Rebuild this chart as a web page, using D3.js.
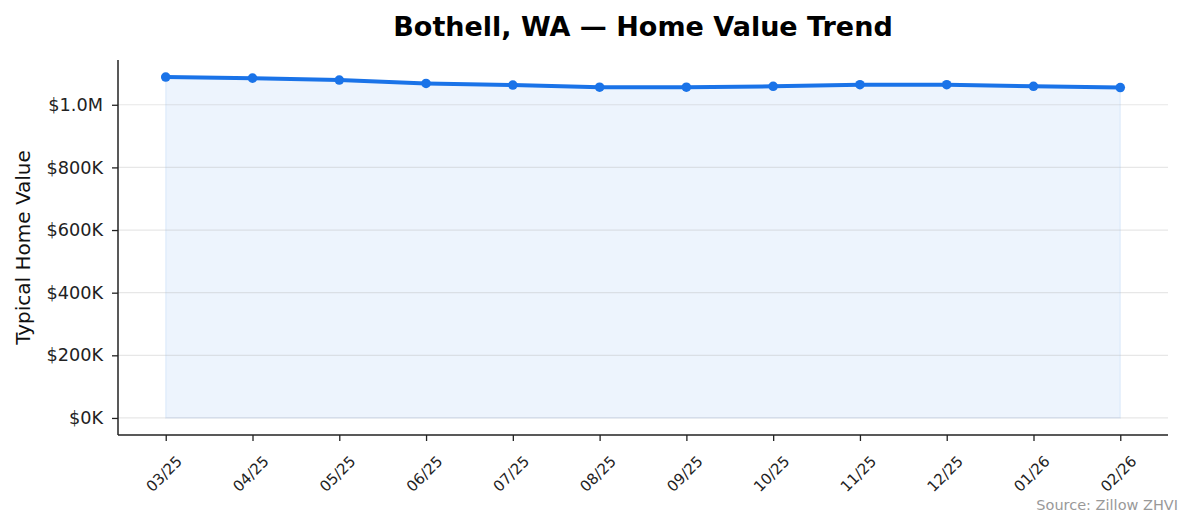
<!DOCTYPE html>
<html>
<head>
<meta charset="utf-8">
<script src="https://cdn.jsdelivr.net/npm/d3@7"></script>
<style>
  html, body { margin: 0; padding: 0; background: #fff; }
  svg { display: block; font-family: "DejaVu Sans", sans-serif; }
</style>
</head>
<body>
<div id="chart"></div>
<script>
// months along the x axis
var months = ['03/25', '04/25', '05/25', '06/25', '07/25', '08/25',
              '09/25', '10/25', '11/25', '12/25', '01/26', '02/26'];
// typical home value (ZHVI), dollars
var homeValues = [1088500, 1085000, 1079000, 1068000, 1063000, 1056000,
                  1056000, 1059000, 1064000, 1064000, 1059000, 1055000];
var yTicks = [0, 200000, 400000, 600000, 800000, 1000000];
var yTickLabels = ['$0K', '$200K', '$400K', '$600K', '$800K', '$1.0M'];

var w = 1194, h = 529;
var margin = {top: 60, right: 26, bottom: 94, left: 118};
var blue = '#1a73e8';

var svg = d3.select('#chart').append('svg')
  .attr('width', w).attr('height', h);

// matplotlib style 5% padding on both axes
var n = months.length;
var xPad = (n - 1) * 0.05;
var x = d3.scaleLinear()
  .domain([-xPad, n - 1 + xPad])
  .range([margin.left, w - margin.right]);

var yMax = d3.max(homeValues);
var yPad = yMax * 0.05;
var y = d3.scaleLinear()
  .domain([-yPad, yMax + yPad])
  .range([h - margin.bottom, margin.top]);

// fill under the line
var area = d3.area()
  .x(function(d, i) { return x(i); })
  .y0(y(0))
  .y1(function(d) { return y(d); });

svg.append('path').datum(homeValues)
  .attr('d', area)
  .attr('fill', blue).attr('fill-opacity', 0.08)
  .attr('stroke', blue).attr('stroke-opacity', 0.08).attr('stroke-width', 1.5);

// horizontal grid
svg.append('g').selectAll('line').data(yTicks).enter().append('line')
  .attr('x1', margin.left).attr('x2', w - margin.right)
  .attr('y1', function(d) { return y(d); })
  .attr('y2', function(d) { return y(d); })
  .attr('stroke', '#b0b0b0').attr('stroke-opacity', 0.3).attr('stroke-width', 1.2);

// line + markers
var line = d3.line()
  .x(function(d, i) { return x(i); })
  .y(function(d) { return y(d); });

svg.append('path').datum(homeValues)
  .attr('d', line)
  .attr('fill', 'none').attr('stroke', blue)
  .attr('stroke-width', 4).attr('stroke-linejoin', 'round').attr('stroke-linecap', 'round');

svg.append('g').selectAll('circle').data(homeValues).enter().append('circle')
  .attr('cx', function(d, i) { return x(i); })
  .attr('cy', function(d) { return y(d); })
  .attr('r', 4.8)
  .attr('fill', blue);

// y axis
var yAxis = d3.axisLeft(y)
  .tickValues(yTicks)
  .tickSize(6).tickPadding(9)
  .tickFormat(function(d, i) { return yTickLabels[i]; });

var gy = svg.append('g')
  .attr('transform', 'translate(' + margin.left + ',0)')
  .call(yAxis);
gy.select('.domain').remove();
gy.selectAll('.tick line').attr('stroke', '#222').attr('stroke-width', 1.3);
gy.selectAll('.tick text').attr('fill', '#222').style('font-size', '17.7px')
  .style('font-family', '"DejaVu Sans", sans-serif');

// x axis
var xAxis = d3.axisBottom(x)
  .tickValues(d3.range(n))
  .tickSize(6)
  .tickFormat(function(d) { return months[d]; });

var gx = svg.append('g')
  .attr('transform', 'translate(0,' + (h - margin.bottom) + ')')
  .call(xAxis);
gx.select('.domain').remove();
gx.selectAll('.tick line').attr('stroke', '#222').attr('stroke-width', 1.3);
gx.selectAll('.tick text')
  .attr('fill', '#222')
  .style('font-size', '15px')
  .style('font-family', '"DejaVu Sans", sans-serif')
  .attr('text-anchor', 'middle')
  .attr('dy', null)
  .attr('y', 0)
  .attr('dominant-baseline', 'central')
  .attr('transform', 'translate(-2,39) rotate(-45)');

// spines
svg.append('line')
  .attr('x1', margin.left).attr('x2', margin.left)
  .attr('y1', margin.top).attr('y2', h - margin.bottom)
  .attr('stroke', '#222').attr('stroke-width', 1.5);
svg.append('line')
  .attr('x1', margin.left).attr('x2', w - margin.right)
  .attr('y1', h - margin.bottom).attr('y2', h - margin.bottom)
  .attr('stroke', '#222').attr('stroke-width', 1.5);

// title, axis label, source
svg.append('text')
  .attr('x', (margin.left + w - margin.right) / 2).attr('y', 36)
  .attr('text-anchor', 'middle')
  .style('font-size', '27px').style('font-weight', 'bold')
  .text('Bothell, WA — Home Value Trend');

svg.append('text')
  .attr('transform', 'translate(30,' + ((margin.top + h - margin.bottom) / 2) + ') rotate(-90)')
  .attr('text-anchor', 'middle')
  .attr('fill', '#111')
  .style('font-size', '20px')
  .text('Typical Home Value');

svg.append('text')
  .attr('x', 1178).attr('y', 510)
  .attr('text-anchor', 'end')
  .attr('fill', '#999')
  .style('font-size', '14.5px')
  .text('Source: Zillow ZHVI');
</script>
</body>
</html>
